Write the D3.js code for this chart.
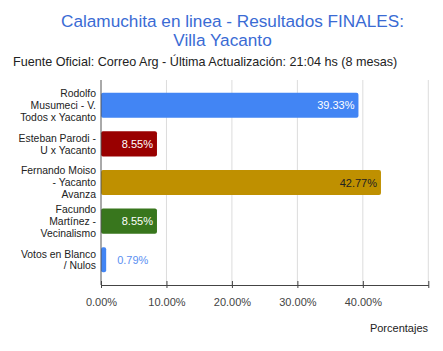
<!DOCTYPE html>
<html>
<head>
<meta charset="utf-8">
<script src="https://cdn.jsdelivr.net/npm/d3@7"></script>
<style>
  body { margin: 0; background: #fff; }
  svg { font-family: "Liberation Sans", Arial, sans-serif; }
</style>
</head>
<body>
<script>
// chart data
var categories = [
  ["Rodolfo", "Musumeci - V.", "Todos x Yacanto"],
  ["Esteban Parodi -", "U x Yacanto"],
  ["Fernando Moiso", "- Yacanto", "Avanza"],
  ["Facundo", "Martínez -", "Vecinalismo"],
  ["Votos en Blanco", "/ Nulos"]
];
var values = [39.33, 8.55, 42.77, 8.55, 0.79];
var barColors = ["#4285f4", "#990000", "#bf9000", "#38761d", "#4285f4"];
var labelColors = ["#ffffff", "#ffffff", "#222222", "#ffffff", "#5b8ff2"];
var tickValues = [0, 10, 20, 30, 40, 50];
var tickLabels = ["0.00%", "10.00%", "20.00%", "30.00%", "40.00%", ""];

var width = 443, height = 351;

var svg = d3.select("body").append("svg")
    .attr("width", width)
    .attr("height", height);

// scales
var x = d3.scaleLinear().domain([0, 50]).range([101, 428.3]);
var y = d3.scaleBand().domain(d3.range(values.length)).range([86, 279]).paddingInner(0.35).paddingOuter(0.175);

// title (two lines)
svg.append("text")
    .attr("x", 232.5).attr("y", 26.5)
    .attr("text-anchor", "middle")
    .style("font-size", "17.2px")
    .style("fill", "#3a6bd4")
    .text("Calamuchita en linea - Resultados FINALES:");
svg.append("text")
    .attr("x", 222.5).attr("y", 46)
    .attr("text-anchor", "middle")
    .style("font-size", "17.2px")
    .style("fill", "#3a6bd4")
    .text("Villa Yacanto");

svg.append("text")
    .attr("x", 13).attr("y", 66)
    .style("font-size", "12.6px")
    .style("fill", "#222")
    .text("Fuente Oficial: Correo Arg - Última Actualización: 21:04 hs (8 mesas)");

// gridlines
svg.append("g").selectAll("line")
    .data(tickValues.slice(1))
    .enter().append("line")
    .attr("x1", function(d) { return x(d); })
    .attr("x2", function(d) { return x(d); })
    .attr("y1", 80).attr("y2", 285)
    .attr("stroke", "#dcdcdc")
    .attr("stroke-width", 1);

// bars
svg.append("g").selectAll("rect")
    .data(values)
    .enter().append("rect")
    .attr("x", x(0))
    .attr("y", function(d, i) { return y(i); })
    .attr("width", function(d) { return x(d) - x(0); })
    .attr("height", y.bandwidth())
    .attr("rx", 2)
    .attr("fill", function(d, i) { return barColors[i]; });

// value labels
svg.append("g").selectAll("text")
    .data(values)
    .enter().append("text")
    .attr("x", function(d) { return d < 3 ? x(d) + 11 : x(d) - 4; })
    .attr("y", function(d, i) { return y(i) + y.bandwidth() / 2 + 4; })
    .attr("text-anchor", function(d) { return d < 3 ? "start" : "end"; })
    .style("font-size", "11px")
    .style("fill", function(d, i) { return labelColors[i]; })
    .text(function(d) { return d.toFixed(2) + "%"; });

// left axis line
svg.append("line")
    .attr("x1", x(0)).attr("x2", x(0))
    .attr("y1", 80).attr("y2", 285)
    .attr("stroke", "#555").attr("stroke-width", 1);

// category labels, wrapped
var lineH = 11.8;
var catG = svg.append("g").selectAll("text")
    .data(categories)
    .enter().append("text")
    .attr("text-anchor", "end")
    .style("font-size", "10.4px")
    .style("fill", "#222");
catG.each(function(lines, i) {
  var cy = y(i) + y.bandwidth() / 2;
  var y0 = cy - (lines.length - 1) * lineH / 2 + 3.7;
  d3.select(this).selectAll("tspan")
    .data(lines)
    .enter().append("tspan")
    .attr("x", 96)
    .attr("y", function(d, j) { return y0 + j * lineH; })
    .text(function(d) { return d; });
});

// bottom axis
var xAxis = svg.append("g")
    .attr("transform", "translate(0,285)")
    .call(d3.axisBottom(x).tickValues(tickValues)
      .tickFormat(function(d, i) { return tickLabels[i]; })
      .tickSizeInner(3).tickSizeOuter(0).tickPadding(10));
xAxis.select(".domain").attr("stroke", "#444");
xAxis.selectAll(".tick line").attr("stroke", "#444").attr("y1", -4).attr("y2", 3);
xAxis.selectAll(".tick text")
    .style("font-size", "11px")
    .style("fill", "#444")
    .style("font-family", "Liberation Sans, Arial, sans-serif");

svg.append("text")
    .attr("x", 428).attr("y", 332)
    .attr("text-anchor", "end")
    .style("font-size", "11px")
    .style("fill", "#222")
    .text("Porcentajes");
</script>
</body>
</html>
